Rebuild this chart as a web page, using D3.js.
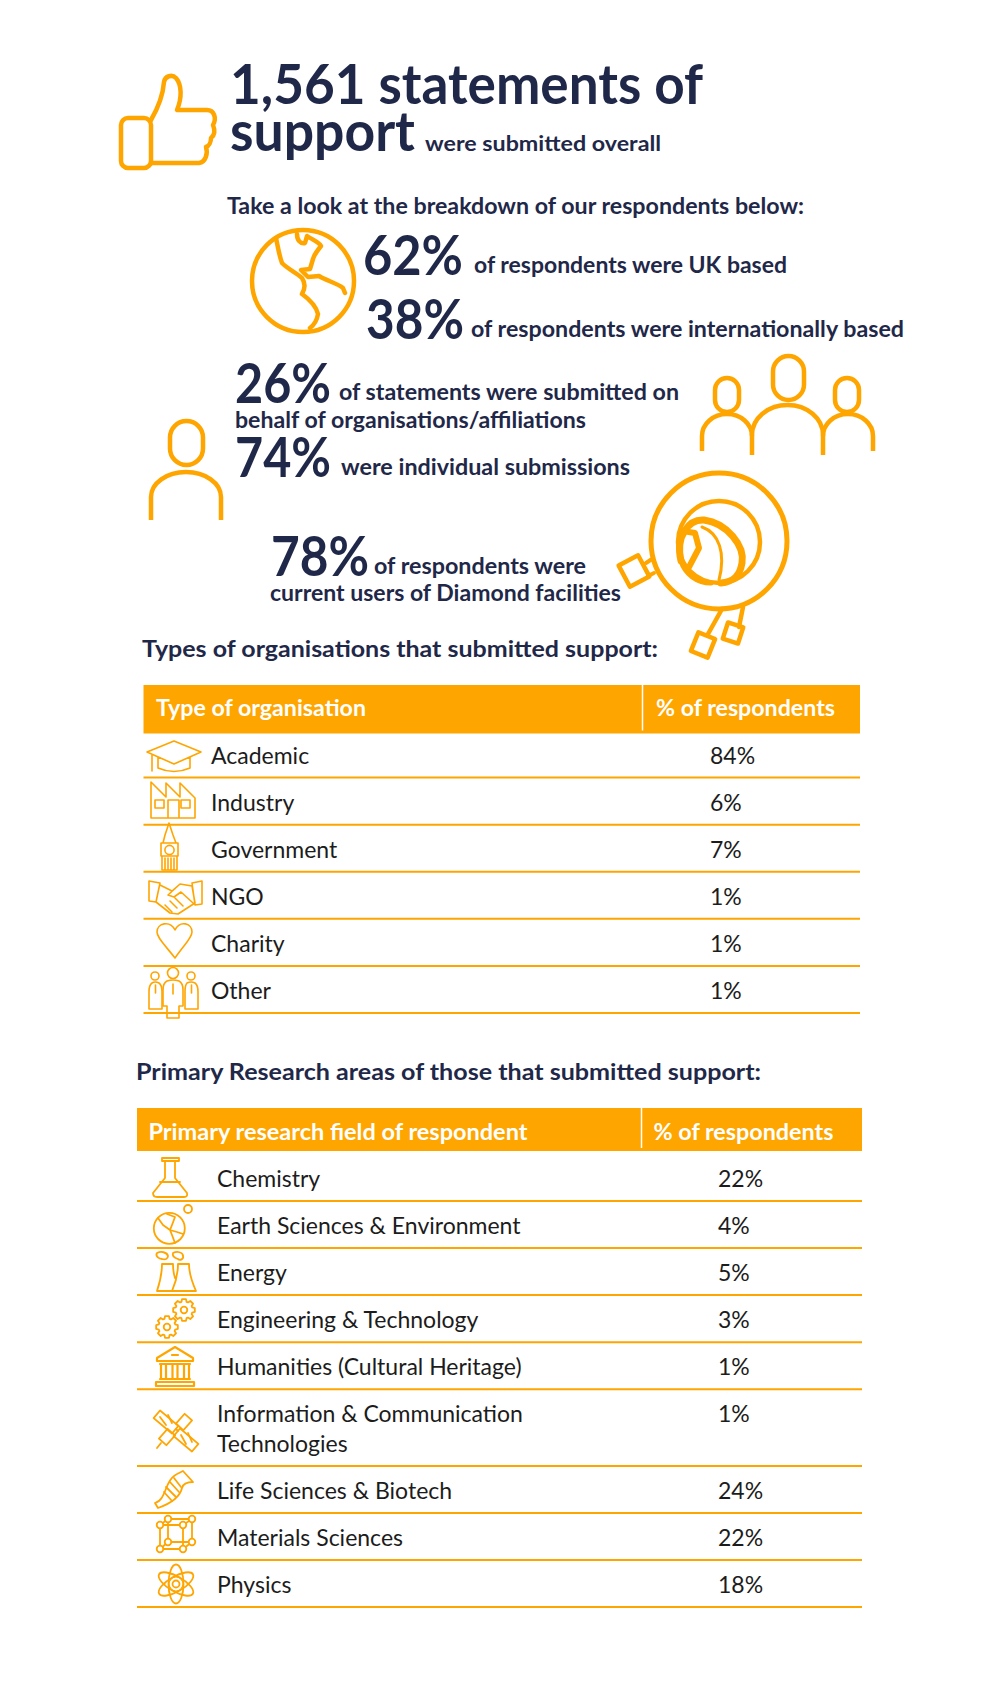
<!DOCTYPE html>
<html>
<head>
<meta charset="utf-8">
<script src="https://cdn.jsdelivr.net/npm/d3@7"></script>
<style>
  html, body { margin: 0; padding: 0; background: #fff; }
  svg { display: block; }
  text { font-family: Lato, "Open Sans", sans-serif; }
</style>
</head>
<body>
<svg id="chart"></svg>
<script>
// values
const totalStatements = 1561;
const ukShare = 62, intlShare = 38;
const orgBehalfShare = 26, individualShare = 74;
const currentUserShare = 78;

const orgTypes = ["Academic", "Industry", "Government", "NGO", "Charity", "Other"];
const orgShares = [84, 6, 7, 1, 1, 1];

const fields = ["Chemistry", "Earth Sciences & Environment", "Energy", "Engineering & Technology",
  "Humanities (Cultural Heritage)", "Information & Communication\nTechnologies",
  "Life Sciences & Biotech", "Materials Sciences", "Physics"];
const fieldShares = [22, 4, 5, 3, 1, 1, 24, 22, 18];

const navy = "#1f2848", orange = "#ffa500", ink = "#1c1c1c";
const width = 992, height = 1701;
const pct = d => d + "%";

const svg = d3.select("#chart").attr("width", width).attr("height", height)
  .attr("viewBox", [0, 0, width, height]);
svg.append("rect").attr("width", width).attr("height", height).attr("fill", "#fff");

const gTable = svg.append("g");
const gIcons = svg.append("g").attr("fill", "none").attr("stroke", orange)
  .attr("stroke-linejoin", "round").attr("stroke-linecap", "round");
const gText = svg.append("g");

// width is squeezed to what the picture has, Lato runs wider than the original font
function put(str, x, y, size, w, opts = {}) {
  const t = gText.append("text")
    .attr("x", x).attr("y", y)
    .attr("font-size", size)
    .attr("font-weight", opts.weight || 700)
    .attr("fill", opts.fill || navy)
    .text(str);
  if (w) t.attr("textLength", w).attr("lengthAdjust", "spacingAndGlyphs");
  return t;
}

// headline block
put(d3.format(",")(totalStatements) + " statements of", 230, 104, 55, 473);
put("support", 230, 151, 55, 185);
put("were submitted overall", 425, 151, 21, 236);
put("Take a look at the breakdown of our respondents below:", 227, 214, 23, 577);

put(pct(ukShare), 363, 275, 55, 100);
put("of respondents were UK based", 474, 273, 22, 313);
put(pct(intlShare), 366, 339, 55, 98);
put("of respondents were internationally based", 471, 337, 22, 433);

put(pct(orgBehalfShare), 235, 403, 55, 96);
put("of statements were submitted on", 339, 400, 22, 340);
put("behalf of organisations/affiliations", 235, 427.5, 22, 351);
put(pct(individualShare), 235, 477, 55, 96);
put("were individual submissions", 341, 475, 22, 289);

put(pct(currentUserShare), 271, 576, 55, 98);
put("of respondents were", 374, 574, 22, 212);
put("current users of Diamond facilities", 270, 601, 22, 351);

put("Types of organisations that submitted support:", 142, 657, 23, 516);
put("Primary Research areas of those that submitted support:", 136, 1080, 23, 625);

// rows are stacked from how many lines each label takes
function drawTable(cfg) {
  const units = cfg.labels.map(d => 1 + 0.63 * (d.split("\n").length - 1));
  const tops = [0, ...d3.cumsum(units)];
  const y = d3.scaleLinear().domain([0, d3.sum(units)]).range(cfg.rowRange);
  const g = gTable.append("g");

  g.append("rect").attr("x", cfg.x0).attr("y", cfg.headY).attr("width", cfg.x1 - cfg.x0)
    .attr("height", cfg.headH).attr("fill", orange);
  g.append("line").attr("x1", cfg.divX).attr("x2", cfg.divX)
    .attr("y1", cfg.headY).attr("y2", cfg.headY + cfg.headH - 3)
    .attr("stroke", "#fff").attr("stroke-width", 1.5);

  put(cfg.head[0], cfg.headX[0], cfg.headBase, 22, cfg.headW[0], { fill: "#fff" });
  put(cfg.head[1], cfg.headX[1], cfg.headBase, 22, cfg.headW[1], { fill: "#fff" });

  g.selectAll("line.rule").data(cfg.labels).join("line")
    .attr("class", "rule")
    .attr("x1", cfg.x0).attr("x2", cfg.x1)
    .attr("y1", (d, i) => y(tops[i + 1])).attr("y2", (d, i) => y(tops[i + 1]))
    .attr("stroke", orange).attr("stroke-width", 2);

  const row = g.selectAll("g.row").data(cfg.labels).join("g")
    .attr("class", "row")
    .attr("transform", (d, i) => `translate(0,${y(tops[i]) + 33})`);

  row.append("text")
    .attr("font-size", 23).attr("fill", ink)
    .selectAll("tspan").data(d => d.split("\n")).join("tspan")
    .attr("x", cfg.labelX)
    .attr("dy", (d, i) => i ? 30 : 0)
    .text(d => d);

  row.append("text")
    .attr("x", cfg.valueX)
    .attr("font-size", 23).attr("fill", ink)
    .text((d, i) => pct(cfg.values[i]));
}

drawTable({
  labels: orgTypes, values: orgShares,
  x0: 143.5, x1: 860, divX: 642.5, headY: 685, headH: 48.5, headBase: 716,
  head: ["Type of organisation", "% of respondents"], headX: [156, 656], headW: [210, 179],
  rowRange: [730.5, 1013], labelX: 211, valueX: 710
});
drawTable({
  labels: fields, values: fieldShares,
  x0: 137, x1: 862, divX: 641.5, headY: 1108, headH: 43, headBase: 1139.5,
  head: ["Primary research field of respondent", "% of respondents"], headX: [148.5, 653.5], headW: [379, 180],
  rowRange: [1154, 1607], labelX: 217, valueX: 718
});

// icons, large ones first
function path(d, sw, g = gIcons) { return g.append("path").attr("d", d).attr("stroke-width", sw); }
function circle(cx, cy, r, sw) { return gIcons.append("circle").attr("cx", cx).attr("cy", cy).attr("r", r).attr("stroke-width", sw); }
function box(cx, cy, w, h, rot, sw) {
  return gIcons.append("rect").attr("x", -w / 2).attr("y", -h / 2).attr("width", w).attr("height", h)
    .attr("transform", `translate(${cx},${cy}) rotate(${rot})`).attr("stroke-width", sw);
}

// thumb
const gBig = gIcons.append("g").attr("transform", "translate(-2,0)");
gBig.append("rect").attr("x", 123).attr("y", 118).attr("width", 30).attr("height", 50).attr("rx", 7).attr("stroke-width", 4.5);
path("M153,120 C160,108 165,95 166,82 C167,76 174,74 178,78 C184,85 184,98 179,110 L209,110 C216,110 219,118 215,125 C217,130 217,135 213,138 C213,142 211,146 208,147 C210,153 208,162 201,163 L153,163", 4.5, gBig);

// globe
const gGlobe = gIcons.append("g").attr("transform", "translate(-3,-3)");
gGlobe.append("circle").attr("cx", 306).attr("cy", 284).attr("r", 51).attr("stroke-width", 4.5);
path("M279,241 C281,250 282,258 285,266 C292,273 300,276 305,281 C309,287 308,292 305,297 C312,302 319,309 321,317 C320,323 317,328 313,331", 4.5, gGlobe);
path("M300,237 C300,243 303,247 308,246 L310,239 C316,243 322,245 324,249 C320,254 317,258 316,262 L313,272 L304,273 L311,280 L322,279 C330,284 340,286 346,291 L348,296", 4.5, gGlobe);

// one person
gIcons.append("rect").attr("x", 170).attr("y", 421).attr("width", 33).attr("height", 44).attr("rx", 16.5).attr("stroke-width", 4.5);
path("M151,520 V497 A35,25 0 0 1 221,497 V520", 4.5).attr("stroke-linecap", "butt");

// group of three
const gGroup = gIcons.append("g").attr("transform", "translate(-3,0)");
gGroup.append("rect").attr("x", 776).attr("y", 356).attr("width", 31).attr("height", 44).attr("rx", 15.5).attr("stroke-width", 4.5);
gGroup.append("rect").attr("x", 718).attr("y", 378).attr("width", 24).attr("height", 34).attr("rx", 12).attr("stroke-width", 4.5);
gGroup.append("rect").attr("x", 838).attr("y", 378).attr("width", 24).attr("height", 34).attr("rx", 12).attr("stroke-width", 4.5);
path("M755,455 V435 A35.5,30 0 0 1 826,435 V455", 4.5, gGroup).attr("stroke-linecap", "butt");
path("M705,451 V436 A25,22 0 0 1 755,436", 4.5, gGroup).attr("stroke-linecap", "butt");
path("M826,436 A25,22 0 0 1 876,436 V451", 4.5, gGroup).attr("stroke-linecap", "butt");

// synchrotron ring
const gRing = gIcons.append("g").attr("transform", "translate(-3,1)");
gRing.append("circle").attr("cx", 722).attr("cy", 540).attr("r", 68).attr("stroke-width", 5);
gRing.append("circle").attr("cx", 722).attr("cy", 541).attr("r", 41).attr("stroke-width", 4.5);
path("M684,560 C678,535 692,518 707,519 C730,522 748,545 745,562 C743,574 737,581 724,582", 7, gRing);
path("M684,560 C688,573 700,582 714,582", 5, gRing);
path("M686,530 L698,532 L702,547 L692,566", 6, gRing);
path("M705,526 C722,532 729,552 722,579", 3, gRing);
path("M649,562 L655,558 M651,575 L657,572", 4, gRing);
path("M725,608 L711,633 M746,606 L742,626", 4.5, gRing);
[[637, 570, 22, 24, -28], [706, 644, 18, 20, 22], [736, 632, 16, 17, 18]].forEach(d =>
  gRing.append("rect").attr("x", -d[2] / 2).attr("y", -d[3] / 2).attr("width", d[2]).attr("height", d[3])
    .attr("transform", `translate(${d[0]},${d[1]}) rotate(${d[4]})`).attr("stroke-width", 4.5));

// organisation table icons
const thin = 1.6;
path("M174,741 L201,752 L174,764 L147,752 Z M158,757 V768 Q174,775 190,768 V757 M152,755 V771", thin);
path("M151,818 V782 L166,797 V783 L180,797 V783 L195,798 V818 Z M155,800 h9 v8 h-9 Z M168,800 h11 v18 h-11 Z M181,800 h9 v8 h-9 Z", thin);
path("M169,823 L165,835 L163,843 H176 L173,835 Z M161,843 H178 V856 H161 Z M162,856 V870 H177 V856 M165,858 V870 M168,858 V870 M171,858 V870 M174,858 V870", thin);
circle(169.5, 850, 4.6, thin);
path("M149,881 L160,883 L156,902 L149,901 Z M202,881 L192,883 L195,905 L202,904 Z M160,885 L172,891 L180,884 L192,886 L195,903 L178,914 L170,913 L156,902 M180,884 L168,895 L174,897 L181,892 L193,903 M165,905 L172,912 M170,901 L177,908 M175,898 L183,906", thin);
path("M175,958 C165,945 157,938 157,932 C157,923 170,920 175,930 C180,920 192,923 192,932 C192,938 184,945 175,958 Z", thin);
circle(173, 973, 5.5, thin); circle(155, 976, 4, thin); circle(191, 976, 4, thin);
path("M167,981 Q173,979 179,981 Q183,983 183,990 L183,1006 H179 V1018 H167 V1006 H163 V990 Q163,983 167,981 Z M173,984 V994", thin);
path("M152,983 Q155,981 159,983 Q162,985 162,992 V1009 H149 V992 Q149,985 152,983 Z M155.500,985 V993", thin);
path("M187,983 Q191,981 195,983 Q198,985 198,992 V1009 H185 V992 Q185,985 187,983 Z M191.500,985 V993", thin);

// research table icons
path("M162,1158 H179 V1161 H162 Z M165,1161 V1178 L153,1193 Q153,1197 157,1197 H184 Q188,1197 187,1193 L175,1178 V1161 M160,1182 H180", 1.8);
circle(169.3, 1228.3, 15.5, 1.8); circle(188, 1209, 4, 1.8);
path("M158,1218 L163,1225 L170,1230 L172,1235 L175,1243 M167,1214 L175,1217 L172,1225 L170,1230 L177,1232 L183,1234", 1.8);
path("M157,1291 C160,1282 162,1273 162,1264 H173 C173,1269 174,1275 175,1278 M172,1291 C176,1282 178,1273 178,1264 H189 C189,1273 192,1282 196,1291 Z M157,1291 H172", 1.8);
path("M157,1253 C161,1251 167,1252 168,1256 C168,1259 165,1260 162,1259 C159,1259 155,1256 157,1253 Z M173,1253 C177,1251 183,1252 183,1256 C184,1259 180,1261 178,1259 C175,1258 172,1256 173,1253 Z", 1.8);

// a cog drawn from its tooth count
function gear(cx, cy, r, sw) {
  const pts = d3.range(0, 8).flatMap(i => {
    const a = i * Math.PI / 4;
    return [[a - 0.3, r * 0.78], [a - 0.18, r], [a + 0.18, r], [a + 0.3, r * 0.78]];
  });
  gIcons.append("path").attr("stroke-width", sw)
    .attr("transform", `translate(${cx},${cy})`)
    .attr("d", d3.lineRadial().curve(d3.curveLinearClosed)(pts));
  circle(cx, cy, r * 0.3, sw);
}
gear(184, 1310, 11, 1.8);
gear(167, 1327, 11, 1.8);

// temple
path("M175,1347 L193,1358 V1361 H157 V1358 Z M172,1355 H178 M160,1364 H190 M156,1386 H194 V1382 H156 Z M160,1379 H190 M161,1364 V1379 H166 V1364 M172.500,1364 V1379 H177.500 V1364 M184,1364 V1379 H189 V1364", 2.2);

// satellite
box(166, 1422, 24, 10, 40, 1.8); box(186, 1440, 24, 10, 40, 1.8);
box(184, 1422, 13, 10, -48, 1.8); box(167, 1437, 13, 10, -48, 1.8);
path("M160,1417 L166,1425 M168,1415 L172,1423 M181,1435 L186,1444 M188,1433 L192,1442 M176,1429 L178,1431 M161,1443 L157,1448", 1.8);

// dna
path("M155,1503 C166,1500 165,1482 174,1476 C178,1473 181,1472 183,1471 L193,1482 C187,1482 183,1484 182,1488 C180,1497 172,1503 158,1508 L155,1503", 1.8);
path("M170,1482 L179,1492 M166,1487 L176,1497 M164,1492 L172,1501 M174,1478 L181,1487", 1.8);

// cube of atoms
path("M160,1525 H183 V1549 H160 Z M168,1519 H192 V1542 H168 Z M160,1525 L168,1519 M183,1525 L192,1519 M160,1549 L168,1542 M183,1549 L192,1542", 1.8);
[[160, 1525], [183, 1525], [160, 1549], [183, 1549], [168, 1519], [192, 1519], [168, 1542], [192, 1542]]
  .forEach(d => circle(d[0], d[1], 3.3, 1.8).attr("fill", "#fff"));

// atom
[90, 30, -30].forEach(a => gIcons.append("ellipse")
  .attr("rx", 19.5).attr("ry", 7.5).attr("stroke-width", 1.8)
  .attr("transform", `translate(176,1584) rotate(${a})`));
circle(176, 1584, 3.5, 1.8);
circle(176, 1584, 7, 1.2);
</script>
</body>
</html>
